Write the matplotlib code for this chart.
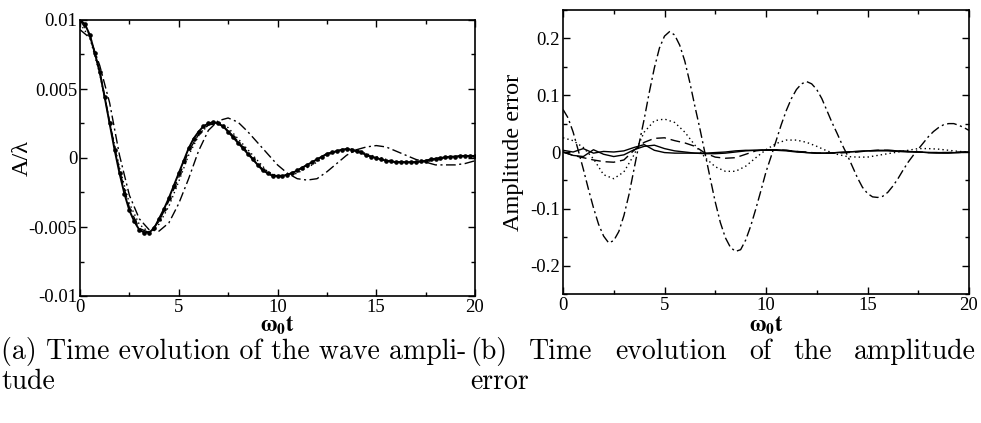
import numpy as np
import matplotlib
matplotlib.use("Agg")
import matplotlib.pyplot as plt
from matplotlib.ticker import MultipleLocator, FixedLocator, FixedFormatter

t_fine = np.linspace(0, 20, 81)
t_half = np.linspace(0, 20, 41)

# (a) wave amplitude A/lambda
amp_solid = [
    0.0100, 0.0097, 0.0089, 0.0076, 0.0062, 0.0044, 0.0025, 0.0006,
    -0.0011, -0.0026, -0.0038, -0.0046, -0.0052, -0.0054, -0.0054, -0.0051,
    -0.0044, -0.0037, -0.0029, -0.0020, -0.0011, -0.0002, 0.0007, 0.0014,
    0.0019, 0.0023, 0.0025, 0.0026, 0.0025, 0.0023, 0.0019, 0.0015,
    0.0011, 0.0007, 0.0003, -0.0001, -0.0005, -0.0009, -0.0011, -0.0013,
    -0.0013, -0.0013, -0.0012, -0.0011, -0.0009, -0.0007, -0.0005, -0.0003,
    -0.0001, 0.0001, 0.0003, 0.0004, 0.0005, 0.0006, 0.00065, 0.0006,
    0.0005, 0.0004, 0.0002, 0.0001, 0.0000, -0.0001, -0.0002, -0.00025,
    -0.0003, -0.0003, -0.0003, -0.0003, -0.0003, -0.00025, -0.0002, -0.0001,
    -0.00005, 0.0000, 0.00005, 0.0001, 0.0001, 0.00015, 0.00015, 0.00015,
    0.00015,
]
amp_dotted = [
    0.00975, 0.0087, 0.0061, 0.0026, -0.0007, -0.0033, -0.0048, -0.0054, -0.0048, -0.0035,
    -0.0017, 0.0002, 0.0016, 0.0024, 0.0026, 0.0022, 0.0014, 0.0006, -0.0002, -0.0010,
    -0.0013, -0.0013, -0.0011, -0.0007, -0.0003, 0.0002, 0.0005, 0.0007, 0.0006, 0.0003,
    0.0001, -0.0001, -0.0003, -0.0003, -0.0003, -0.0003, -0.0001, 0.0000, 0.0001, 0.0001,
    0.0001,
]
amp_dashed = [
    0.0100, 0.0089, 0.0063, 0.0026, -0.0009, -0.0036, -0.0051, -0.0054, -0.0046, -0.0031,
    -0.0014, 0.0005, 0.0017, 0.0024, 0.0025, 0.0020, 0.0012, 0.0004, -0.0005, -0.0011,
    -0.0013, -0.0012, -0.0009, -0.0005, -0.0001, 0.0003, 0.0005, 0.00065, 0.0005, 0.0002,
    0.0000, -0.0002, -0.0003, -0.0003, -0.0003, -0.0002, -0.00005, 0.00005, 0.0001, 0.00015,
    0.00015,
]
amp_dashdot = [
    0.0093, 0.0087, 0.0067, 0.0040, 0.0002, -0.0027, -0.0044, -0.0052, -0.0053, -0.0047,
    -0.0033, -0.0015, 0.0005, 0.0020, 0.0027, 0.0029, 0.0026, 0.0019, 0.0011, 0.0003,
    -0.0005, -0.0011, -0.0015, -0.0016, -0.0015, -0.0010, -0.0004, 0.0002, 0.0006, 0.0008,
    0.0009, 0.0008, 0.0005, 0.0002, -0.0001, -0.0003, -0.0005, -0.0005, -0.0005, -0.0004,
    -0.0002,
]

# (b) amplitude error
err_dashdot = [
    0.075, 0.060, 0.035, 0.003, -0.030, -0.065, -0.098, -0.127,
    -0.148, -0.160, -0.156, -0.140, -0.112, -0.075, -0.030, 0.015,
    0.058, 0.105, 0.148, 0.183, 0.204, 0.212, 0.206, 0.188,
    0.160, 0.122, 0.080, 0.040, -0.003, -0.046, -0.088, -0.124,
    -0.151, -0.168, -0.175, -0.172, -0.155, -0.130, -0.100, -0.068,
    -0.035, -0.008, 0.020, 0.048, 0.073, 0.094, 0.110, 0.120,
    0.124, 0.120, 0.110, 0.094, 0.073, 0.052, 0.033, 0.013,
    -0.005, -0.025, -0.045, -0.062, -0.073, -0.079, -0.080, -0.078,
    -0.071, -0.060, -0.047, -0.032, -0.018, -0.006, 0.005, 0.016,
    0.027, 0.036, 0.043, 0.048, 0.050, 0.050, 0.047, 0.043,
    0.038,
]
err_dotted = [
    0.025, 0.020, 0.008, -0.012, -0.040, -0.047, -0.035, -0.005, 0.035, 0.055,
    0.058, 0.052, 0.035, 0.012, -0.010, -0.026, -0.034, -0.034, -0.025, -0.010,
    0.004, 0.015, 0.021, 0.021, 0.017, 0.010, 0.002, -0.004, -0.008, -0.009,
    -0.009, -0.006, -0.003, 0.000, 0.003, 0.006, 0.006, 0.005, 0.003, 0.001,
    0.000,
]
err_dashed = [
    0.000, -0.006, -0.010, -0.014, -0.017, -0.018, -0.014, 0.003, 0.017, 0.024,
    0.025, 0.020, 0.016, 0.010, -0.002, -0.009, -0.011, -0.010, -0.004, 0.002,
    0.004, 0.004, 0.003, 0.001, 0.000, -0.002, -0.002, -0.002, -0.001, 0.000,
    0.002, 0.003, 0.003, 0.002, 0.001, 0.000, -0.001, -0.001, -0.001, 0.000,
    0.000,
]
err_solid1 = [
    0.003, 0.000, 0.006, -0.002, 0.001, 0.000, 0.002, 0.008, 0.013, 0.003,
    -0.001, -0.002, -0.002, -0.002, -0.002, -0.001, 0.000, 0.002, 0.003, 0.003,
    0.004, 0.004, 0.003, 0.001, -0.001, -0.002, -0.002, -0.001, 0.000, 0.001,
    0.002, 0.003, 0.003, 0.002, 0.001, 0.000, -0.001, -0.002, -0.002, -0.001,
    0.000,
]
err_solid2 = [
    0.000, -0.006, -0.008, 0.004, -0.004, -0.008, -0.005, 0.004, 0.010, 0.012,
    0.006, 0.002, 0.000, -0.002, -0.003, -0.003, -0.002, 0.000, 0.002, 0.003,
    0.003, 0.003, 0.002, 0.000, -0.001, -0.002, -0.002, -0.001, 0.000, 0.001,
    0.002, 0.002, 0.002, 0.001, 0.000, 0.000, -0.001, -0.001, -0.001, -0.001,
    0.000,
]

x_ticks = [0, 5, 10, 15, 20]
x_labels = ["0", "5", "10", "15", "20"]
a_ticks = [-0.01, -0.005, 0, 0.005, 0.01]
a_labels = ["-0.01", "-0.005", "0", "0.005", "0.01"]
e_ticks = [-0.2, -0.1, 0, 0.1, 0.2]
e_labels = ["-0.2", "-0.1", "0", "0.1", "0.2"]

caption_a = ["(a) Time evolution of the wave ampli-", "tude"]
caption_b = ["(b) Time evolution of the amplitude", "error"]

plt.rcParams["font.family"] = ["Liberation Serif", "DejaVu Serif"]
plt.rcParams["mathtext.fontset"] = "stix"

W, H = 981, 423
fig = plt.figure(figsize=(W / 100, H / 100), dpi=100)

DASH = (0, (7, 3.5))
DASHDOT = (0, (7, 2.5, 1.5, 2.5))
DOT = (0, (1, 2.2))
lw = 1.0


def style_axes(ax, yminor):
    ax.set_xlim(0, 20)
    ax.xaxis.set_major_locator(FixedLocator(x_ticks))
    ax.xaxis.set_major_formatter(FixedFormatter(x_labels))
    ax.xaxis.set_minor_locator(MultipleLocator(2.5))
    ax.yaxis.set_minor_locator(MultipleLocator(yminor))
    ax.tick_params(which="both", direction="in", top=True, right=True,
                   labelsize=13.5, width=1.0, pad=2)
    ax.tick_params(which="major", length=5)
    ax.tick_params(which="minor", length=3)
    for s in ax.spines.values():
        s.set_linewidth(1.2)


# ---- (a) ----
ax1 = fig.add_axes([80 / W, 1 - 296 / H, 395 / W, 276 / H])
ax1.plot(t_fine, amp_solid, color="black", lw=1.4, marker="o", ms=2.3)
ax1.plot(t_half, amp_dotted, color="black", lw=lw, linestyle=DOT)
ax1.plot(t_half, amp_dashed, color="black", lw=lw, linestyle=DASH)
ax1.plot(t_half, amp_dashdot, color="black", lw=lw, linestyle=DASHDOT)
ax1.set_ylim(-0.01, 0.01)
ax1.yaxis.set_major_locator(FixedLocator(a_ticks))
ax1.yaxis.set_major_formatter(FixedFormatter(a_labels))
style_axes(ax1, 0.0025)
ax1.set_xlabel(r"$\mathbf{\omega_0 t}$", fontsize=16)
ax1.xaxis.set_label_coords(0.5, -0.068)
ax1.set_ylabel("A/λ", fontsize=17.5)
ax1.yaxis.set_label_coords(-0.12, 0.5)

# ---- (b) ----
ax2 = fig.add_axes([563 / W, 1 - 294 / H, 406 / W, 284 / H])
ax2.plot(t_half, err_solid1, color="black", lw=lw)
ax2.plot(t_half, err_solid2, color="black", lw=lw)
ax2.plot(t_half, err_dashed, color="black", lw=lw, linestyle=DASH)
ax2.plot(t_half, err_dotted, color="black", lw=lw, linestyle=DOT)
ax2.plot(t_fine, err_dashdot, color="black", lw=lw, linestyle=DASHDOT)
ax2.set_ylim(-0.25, 0.25)
ax2.yaxis.set_major_locator(FixedLocator(e_ticks))
ax2.yaxis.set_major_formatter(FixedFormatter(e_labels))
style_axes(ax2, 0.05)
ax2.set_xlabel(r"$\mathbf{\omega_0 t}$", fontsize=16)
ax2.xaxis.set_label_coords(0.5, -0.072)
ax2.set_ylabel("Amplitude error", fontsize=17.5)
ax2.yaxis.set_label_coords(-0.097, 0.5)

# ---- captions (justified first line of (b)) ----
cap_font = dict(family="cmr10", fontsize=20, color="black", va="baseline")
fig.text(1 / W, 1 - 359 / H, caption_a[0], **cap_font)
fig.text(1 / W, 1 - 389 / H, caption_a[1], **cap_font)

renderer = fig.canvas.get_renderer()
words = caption_b[0].split()
texts = [fig.text(0, 1 - 359 / H, w, **cap_font) for w in words]
widths = [t.get_window_extent(renderer).width for t in texts]
x0, x1 = 470, 976
gap = (x1 - x0 - sum(widths)) / (len(words) - 1)
x = x0
for t, w in zip(texts, widths):
    t.set_x(x / W)
    x += w + gap
fig.text(x0 / W, 1 - 389 / H, caption_b[1], **cap_font)

fig.savefig("out.png", dpi=100)
